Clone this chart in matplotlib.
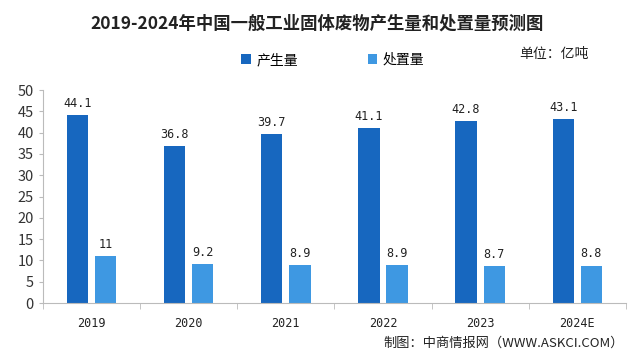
import matplotlib
matplotlib.use("Agg")
import matplotlib.pyplot as plt
import numpy as np

plt.rcParams['font.family'] = ['Noto Sans CJK SC', 'DejaVu Sans']

categories = ["2019", "2020", "2021", "2022", "2023", "2024E"]
production = [44.1, 36.8, 39.7, 41.1, 42.8, 43.1]
disposal = [11, 9.2, 8.9, 8.9, 8.7, 8.8]
prod_labels = ["44.1", "36.8", "39.7", "41.1", "42.8", "43.1"]
disp_labels = ["11", "9.2", "8.9", "8.9", "8.7", "8.8"]

dark = "#1767BF"
light = "#3E98E2"

fig = plt.figure(figsize=(6.4, 3.63), dpi=100)
ax = fig.add_axes([0.067, 0.165, 0.911, 0.587])

x = np.arange(len(categories))
w = 0.22
b1 = ax.bar(x - 0.145, production, w, color=dark, label="产生量")
b2 = ax.bar(x + 0.145, disposal, w, color=light, label="处置量")

for rect, lab in zip(b1, prod_labels):
    ax.text(rect.get_x() + rect.get_width() / 2, rect.get_height() + 1.2, lab,
            ha="center", va="bottom", fontsize=8.5, family=["DejaVu Sans Mono"], color="#222222")
for rect, lab in zip(b2, disp_labels):
    ax.text(rect.get_x() + rect.get_width() / 2, rect.get_height() + 1.2, lab,
            ha="center", va="bottom", fontsize=8.5, family=["DejaVu Sans Mono"], color="#222222")

ax.set_xlim(-0.5, len(categories) - 0.5)
ax.set_ylim(0, 50)
ax.set_yticks(range(0, 51, 5))
ax.tick_params(axis="y", labelsize=10.5, length=3, color="#bbbbbb", colors="#333333")
ax.set_xticks(x)
ax.set_xticklabels(categories, fontsize=8.5, family=["DejaVu Sans Mono"])
ax.set_xticks(np.arange(-0.5, len(categories), 1.0), minor=True)
ax.tick_params(axis="x", which="major", length=0, pad=10, colors="#222222")
ax.tick_params(axis="x", which="minor", length=4, color="#bbbbbb")
for s in ["top", "right"]:
    ax.spines[s].set_visible(False)
for s in ["left", "bottom"]:
    ax.spines[s].set_color("#bbbbbb")

fig.text(0.495, 0.935, "2019-2024年中国一般工业固体废物产生量和处置量预测图",
         ha="center", va="center", fontsize=12.5, fontweight="bold", color="#222222")
fig.legend(handles=[b1, b2], loc="center", bbox_to_anchor=(0.52, 0.835), ncol=2,
           frameon=False, fontsize=10, handlelength=0.7, handleheight=0.7,
           columnspacing=5, handletextpad=0.4)
fig.text(0.866, 0.85, "单位：亿吨", ha="center", va="center", fontsize=10, color="#222222")
fig.text(0.975, 0.055, "制图：中商情报网（WWW.ASKCI.COM）", ha="right", va="center",
         fontsize=9.5, color="#222222")

fig.savefig("out.png", dpi=100)
